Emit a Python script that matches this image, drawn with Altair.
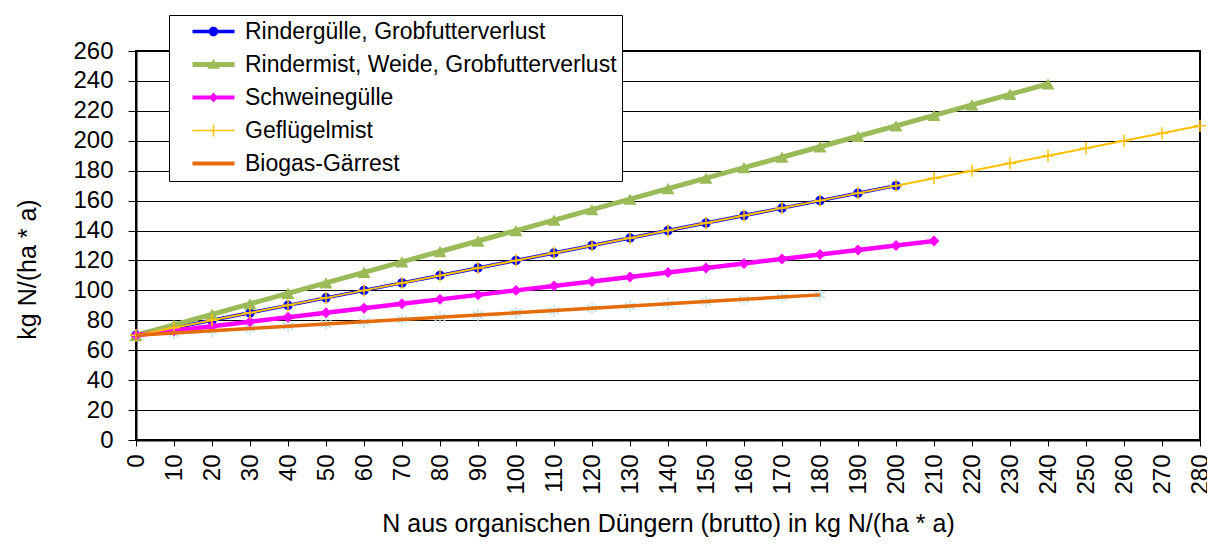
import altair as alt
import pandas as pd

# ---------------- data ----------------
series_names = [
    "Rindergülle, Grobfutterverlust",
    "Rindermist, Weide, Grobfutterverlust",
    "Schweinegülle",
    "Geflügelmist",
    "Biogas-Gärrest",
]
series_colors = ["#0000ff", "#9bbb59", "#ff00ff", "#ffc000", "#e46c0a"]

rinderguelle_x = [0, 10, 20, 30, 40, 50, 60, 70, 80, 90, 100, 110, 120, 130, 140, 150, 160, 170, 180, 190, 200]
rinderguelle_y = [70, 75, 80, 85, 90, 95, 100, 105, 110, 115, 120, 125, 130, 135, 140, 145, 150, 155, 160, 165, 170]

rindermist_x = [0, 10, 20, 30, 40, 50, 60, 70, 80, 90, 100, 110, 120, 130, 140, 150, 160, 170, 180, 190, 200, 210, 220, 230, 240]
rindermist_y = [70, 77, 84, 91, 98, 105, 112, 119, 126, 133, 140, 147, 154, 161, 168, 175, 182, 189, 196, 203, 210, 217, 224, 231, 238]

schweine_x = [0, 10, 20, 30, 40, 50, 60, 70, 80, 90, 100, 110, 120, 130, 140, 150, 160, 170, 180, 190, 200, 210]
schweine_y = [70, 73, 76, 79, 82, 85, 88, 91, 94, 97, 100, 103, 106, 109, 112, 115, 118, 121, 124, 127, 130, 133]

gefluegel_x = [0, 10, 20, 30, 40, 50, 60, 70, 80, 90, 100, 110, 120, 130, 140, 150, 160, 170, 180, 190, 200,
               210, 220, 230, 240, 250, 260, 270, 280]
gefluegel_y = [70, 75, 80, 85, 90, 95, 100, 105, 110, 115, 120, 125, 130, 135, 140, 145, 150, 155, 160, 165, 170,
               175, 180, 185, 190, 195, 200, 205, 210]

biogas_x = [0, 10, 20, 30, 40, 50, 60, 70, 80, 90, 100, 110, 120, 130, 140, 150, 160, 170, 180]
biogas_y = [70, 71.5, 73, 74.5, 76, 77.5, 79, 80.5, 82, 83.5, 85, 86.5, 88, 89.5, 91, 92.5, 94, 95.5, 97]

# hidden marker-only series (light-blue asterisks, not in the legend)
stern_x = [0, 10, 20, 30, 40, 50, 60, 70, 80, 90, 100, 110, 120, 130, 140, 150, 160, 170, 180]
stern_y = [70, 71.5, 73, 74.5, 76, 77.5, 79, 80.5, 82, 83.5, 85, 86.5, 88, 89.5, 91, 92.5, 94, 95.5, 97]

x_ticks = list(range(0, 281, 10))
y_ticks = list(range(0, 261, 20))

# ---------------- table ----------------
rows = []
for name, xs, ys in [
    (series_names[0], rinderguelle_x, rinderguelle_y),
    (series_names[1], rindermist_x, rindermist_y),
    (series_names[2], schweine_x, schweine_y),
    (series_names[3], gefluegel_x, gefluegel_y),
    (series_names[4], biogas_x, biogas_y),
    ("Sterne", stern_x, stern_y),
]:
    for xv, yv in zip(xs, ys):
        rows.append({"series": name, "x": xv, "y": yv})
df = pd.DataFrame(rows)

FONT = "Liberation Sans"

xenc = alt.X(
    "x:Q",
    scale=alt.Scale(domain=[0, 280], nice=False, zero=True),
    axis=alt.Axis(
        values=x_ticks, grid=False, labelAngle=270, tickSize=6, labelPadding=8,
        labelFlush=False, labelOverlap=False,
        title="N aus organischen Düngern (brutto) in kg N/(ha * a)",
        titleX=532, titleY=91, titleBaseline="alphabetic", titleAlign="center",
    ),
)
yenc = alt.Y(
    "y:Q",
    scale=alt.Scale(domain=[0, 260], nice=False, zero=True),
    axis=alt.Axis(
        values=y_ticks, grid=True, tickSize=8, labelPadding=15,
        title="kg N/(ha * a)", titleAngle=270, titleX=-109, titleY=218,
        titleAlign="center", titleBaseline="middle",
    ),
)

base = alt.Chart().encode(x=xenc, y=yenc)


def sel(name):
    return base.transform_filter(alt.datum.series == name)


layers = [
    sel("Sterne").mark_point(shape="M0,-1V1M-0.85,-0.6L0.85,0.6M-0.85,0.6L0.85,-0.6", filled=False,
                             strokeWidth=1.3, size=150, color="#b7dee8", opacity=1),
    sel(series_names[0]).mark_line(color="#0000ff", strokeWidth=3.5),
    sel(series_names[0]).mark_point(shape="circle", filled=True, size=90, color="#0000ff", opacity=1),
    sel(series_names[1]).mark_line(color="#9bbb59", strokeWidth=5),
    sel(series_names[1]).mark_point(shape="triangle-up", filled=True, size=170, color="#9bbb59", opacity=1),
    sel(series_names[2]).mark_line(color="#ff00ff", strokeWidth=4.5),
    sel(series_names[2]).mark_point(shape="diamond", filled=True, size=120, color="#ff00ff", opacity=1),
    sel(series_names[3]).mark_line(color="#ffc000", strokeWidth=2),
    sel(series_names[3]).mark_point(shape="M-1,0H1M0,-1V1", filled=False, strokeWidth=1.5,
                                    size=150, color="#ffc000", opacity=1),
    sel(series_names[4]).mark_line(color="#e46c0a", strokeWidth=3.5),
]

# legend symbols: line segment + marker, as custom paths
legend_paths = [
    "M1,-0.24H7V0.24H1Z M3.32,0A0.68,0.68 0 1,1 4.68,0A0.68,0.68 0 1,1 3.32,0Z",
    "M1,-0.36H7V0.36H1Z M4,-0.8L4.9,0.6L3.1,0.6Z",
    "M1,-0.3H7V0.3H1Z M4,-0.7L4.65,0L4,0.7L3.35,0Z",
    "M1,-0.11H7V0.11H1Z M3.89,-0.85H4.11V0.85H3.89Z",
    "M1,-0.27H7V0.27H1Z",
]

leg = alt.Legend(
    title=None, orient="none", legendX=33, legendY=-36,
    labelFont=FONT, labelFontSize=23, labelColor="black", labelOffset=48, labelLimit=0,
    symbolSize=196, symbolStrokeWidth=0, rowPadding=9, padding=5,
    strokeColor="black", fillColor="white", cornerRadius=0,
)

legend_layer = alt.Chart().transform_filter("false").mark_point(filled=True, opacity=1).encode(
    color=alt.Color("series:N", scale=alt.Scale(domain=series_names, range=series_colors), legend=leg),
    shape=alt.Shape("series:N", scale=alt.Scale(domain=series_names, range=legend_paths), legend=leg),
)

chart = (
    alt.layer(*layers, legend_layer, data=df)
    .properties(
        width=1064, height=389,
        padding={"left": 128, "top": 43, "right": 7, "bottom": 97},
        autosize=alt.AutoSizeParams(type="none"),
        background="white",
    )
    .configure_view(stroke="black", strokeWidth=2)
    .configure_axis(
        labelFont=FONT, labelFontSize=24, labelColor="black",
        titleFont=FONT, titleFontSize=25, titleFontWeight="normal", titleColor="black",
        domainColor="black", domainWidth=2, tickColor="black", tickWidth=1,
        gridColor="black", gridWidth=1, gridOpacity=1,
    )
)

chart.save("out.html", embed_options={"renderer": "svg", "actions": False})
